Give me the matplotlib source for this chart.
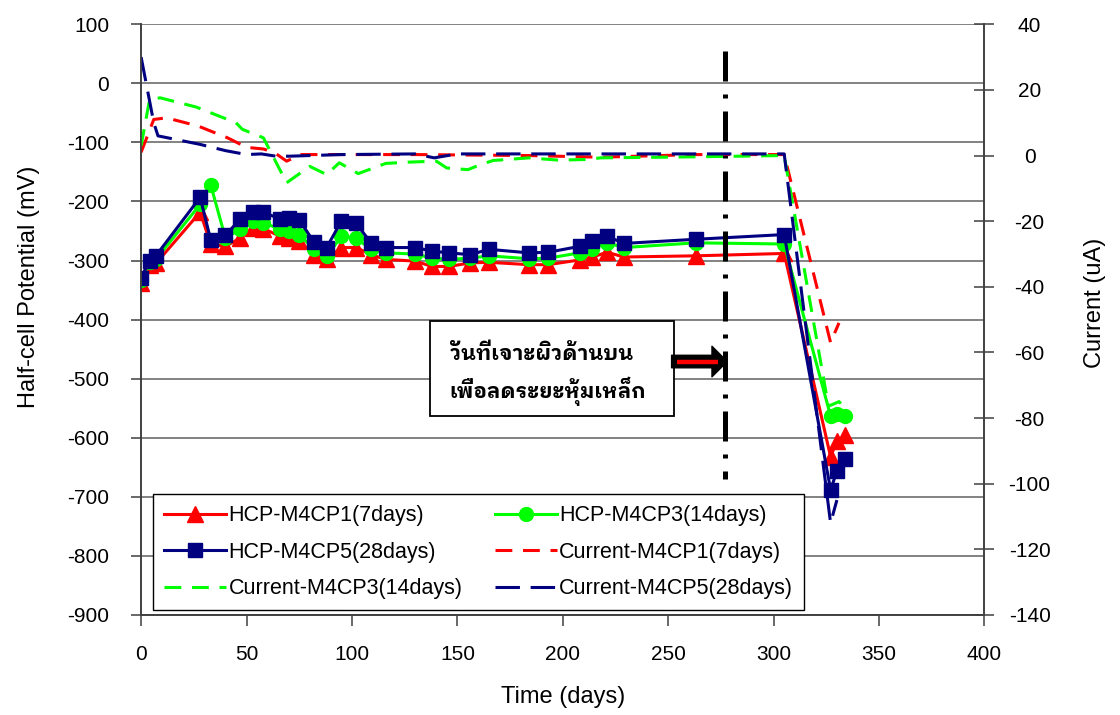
import matplotlib
matplotlib.use("Agg")
import matplotlib.pyplot as plt
from matplotlib import font_manager
from matplotlib.ft2font import FT2Font
from matplotlib.patches import Rectangle

plt.rcParams['font.family'] = ['Liberation Sans', 'DejaVu Sans']
plt.rcParams['axes.unicode_minus'] = False

# half-cell potential (mV), same measuring days for the three specimens
days_hcp = [0, 4, 7, 28, 33, 40, 47, 53, 58, 66, 70, 75, 82, 88, 95, 102, 109, 116,
            130, 138, 146, 156, 165, 184, 193, 208, 214, 221, 229, 263, 305, 327, 330, 334]
hcp_cp1 = [-338, -307, -305, -218, -272, -276, -262, -245, -246, -259, -262, -267, -290, -298,
           -278, -278, -290, -298, -301, -310, -310, -304, -303, -307, -307, -299, -294, -286,
           -294, -292, -288, -632, -606, -595]
hcp_cp3 = [-333, -303, -298, -205, -172, -262, -247, -233, -236, -247, -250, -256, -281, -293,
           -259, -262, -281, -287, -289, -296, -298, -296, -292, -297, -296, -287, -280, -270,
           -278, -270, -272, -563, -560, -563]
hcp_cp5 = [-330, -300, -292, -193, -265, -257, -230, -218, -218, -230, -228, -231, -269, -278,
           -233, -237, -270, -278, -278, -284, -287, -290, -281, -287, -286, -276, -267, -259,
           -271, -264, -256, -688, -657, -636]

# corrosion current (uA)
days_cur1 = [0, 6, 12, 27, 41, 50, 58, 63, 69, 76, 95, 130, 184, 218, 263, 305, 327, 331]
cur_cp1 = [1, 11, 11.5, 9, 5.4, 2.5, 2, 1, -1.7, 0.3, 0.3, 0.3, 0, -0.5, 0.3, 0.3, -57, -51]
days_cur3 = [0, 4, 9, 26, 45, 48, 58, 69, 80, 88, 94, 103, 116, 127, 140, 145, 155, 160,
             167, 184, 198, 211, 218, 261, 305, 326, 331, 335]
cur_cp3 = [3, 17, 17.6, 14.8, 10, 8, 5.4, -8.3, -3.3, -5.8, -2.2, -5.5, -2.4, -2, -1.7, -3.8,
           -4.3, -3, -1.5, -0.7, -1.4, -1.2, -0.7, -0.4, 0, -76.4, -75, -77.5]
days_cur5 = [0, 6, 8, 28, 40, 50, 57, 64, 70, 95, 130, 139, 150, 218, 263, 305, 327, 330]
cur_cp5 = [30, 10, 6, 3.4, 1.5, 0.3, 0.5, -0.2, -0.2, 0.3, 0.5, -0.7, 0.5, 0.5, 0.5, 0.5, -112, -105]

drill_day = 277
drill_span = [55, -670]
note_lines = ['วันที่เจาะผิวด้านบน', 'เพื่อลดระยะหุ้มเหล็ก']

# pick an installed Thai font, looped styles first
thai_names = set()
for f in font_manager.fontManager.ttflist:
    try:
        ft = FT2Font(f.fname)
        if ft.get_char_index(0x0E27) and ft.get_char_index(0x0E40):
            thai_names.add(f.name)
    except Exception:
        pass
prefer = ['IBM Plex Sans Thai Looped', 'Noto Sans Thai Looped', 'Sarabun', 'Noto Sans Thai',
          'IBM Plex Sans Thai']
thai_family = [n for n in prefer if n in thai_names] or sorted(thai_names) or ['DejaVu Sans']
thai_family = thai_family[:1] + ['DejaVu Sans']

RED, GREEN, NAVY = '#FF0000', '#00FF00', '#000080'

fig = plt.figure(figsize=(11.2, 7.15), dpi=100)
ax = fig.add_subplot(111)
fig.subplots_adjust(left=0.126, right=0.879, bottom=0.14, top=0.966)
ax2 = ax.twinx()

l1, = ax.plot(days_hcp, hcp_cp1, color=RED, lw=2.2, marker='^', ms=11, label='HCP-M4CP1(7days)')
l2, = ax.plot(days_hcp, hcp_cp3, color=GREEN, lw=2.2, marker='o', ms=10, label='HCP-M4CP3(14days)')
l3, = ax.plot(days_hcp, hcp_cp5, color=NAVY, lw=2.2, marker='s', ms=10.5, label='HCP-M4CP5(28days)')

ax.plot([drill_day, drill_day], drill_span, color='black', lw=3.6,
        linestyle=(0, (6, 2.6, 0.8, 2.6)), solid_capstyle='butt')

c1, = ax2.plot(days_cur1, cur_cp1, color=RED, lw=2.2, linestyle=(0, (5.5, 3.5)), label='Current-M4CP1(7days)')
c3, = ax2.plot(days_cur3, cur_cp3, color=GREEN, lw=2.2, linestyle=(0, (5.5, 3.5)), label='Current-M4CP3(14days)')
c5, = ax2.plot(days_cur5, cur_cp5, color=NAVY, lw=2.2, linestyle=(0, (8, 3.5)), label='Current-M4CP5(28days)')

ax.set_xlim(0, 400)
ax.set_ylim(-900, 100)
ax.set_xticks(range(0, 401, 50))
ax.set_yticks(range(-900, 101, 100))
ax2.set_ylim(-140, 40)
ax2.set_yticks(range(-140, 41, 20))

ax.set_axisbelow(True)
ax.yaxis.grid(True, color='#606060', lw=1.1)
for a in (ax, ax2):
    a.spines['top'].set_visible(False)
    for s in ('left', 'right', 'bottom'):
        a.spines[s].set_color('#404040')
        a.spines[s].set_linewidth(1.2)

ax.tick_params(axis='x', direction='out', length=8, width=1.1, color='#404040', labelsize=15, pad=14)
ax.tick_params(axis='y', direction='out', length=7, width=1.1, color='#404040', labelsize=15, pad=16)
ax2.tick_params(axis='y', direction='inout', length=15, width=1.1, color='#404040', labelsize=15, pad=25)
for t in ax2.get_yticklabels():
    t.set_horizontalalignment('center')

ax.set_xlabel('Time (days)', fontsize=17)
ax.set_ylabel('Half-cell Potential (mV)', fontsize=17)
ax2.set_ylabel('Current (uA)', fontsize=17)
ax.xaxis.set_label_coords(0.5, -0.12)
ax.yaxis.set_label_coords(-0.12, 0.556)
ax2.yaxis.set_label_coords(1.118, 0.529)

# note box with arrow toward the drilling day
ax.add_patch(Rectangle((0.342, 0.336), 0.29, 0.161, transform=ax.transAxes,
                       facecolor='white', edgecolor='black', lw=1.3, zorder=5))
ax.text(0.366, 0.432, note_lines[0], transform=ax.transAxes, family=thai_family,
        fontsize=15, fontweight='bold', va='baseline', ha='left', zorder=6)
ax.text(0.366, 0.368, note_lines[1], transform=ax.transAxes, family=thai_family,
        fontsize=15, fontweight='bold', va='baseline', ha='left', zorder=6)
ax.annotate('', xy=(0.695, 0.429), xytext=(0.629, 0.429), xycoords='axes fraction',
            arrowprops=dict(arrowstyle='simple,head_length=0.55,head_width=1.1,tail_width=0.45',
                            fc='black', ec='black', mutation_scale=20, shrinkA=0, shrinkB=0), zorder=6)
ax.plot([0.636, 0.684], [0.429, 0.429], transform=ax.transAxes, color=RED, lw=3.2, zorder=7,
        solid_capstyle='butt')

leg = ax2.legend(handles=[l1, l3, c3, l2, c1, c5], ncol=2, loc='lower left',
                 bbox_to_anchor=(0.0142, 0.0085), borderaxespad=0, fontsize=15.5, frameon=True,
                 fancybox=False, edgecolor='black', framealpha=1, handlelength=2.9,
                 columnspacing=1.5, labelspacing=0.72, borderpad=0.5, handletextpad=0.1)
leg.get_frame().set_linewidth(1.0)

fig.savefig('out.png', dpi=100)
